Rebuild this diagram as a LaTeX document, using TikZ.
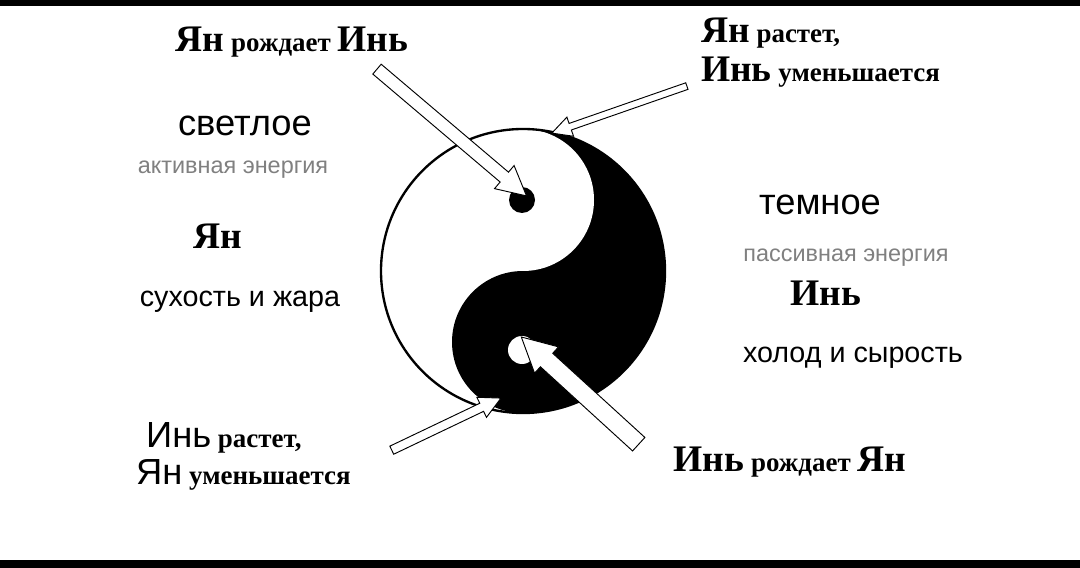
\documentclass[tikz,border=0pt]{standalone}
\usepackage{fontspec}
\setmainfont{Liberation Serif}
\newfontfamily\sansf{Liberation Sans}
\usetikzlibrary{shapes.arrows}
\tikzset{
  harrow/.style 2 args={single arrow, draw=black, fill=white, line width=0.8pt, inner sep=#1, single arrow head extend=#2, single arrow tip angle=55},
  big/.style={font=\sansf\fontsize{31}{33}\selectfont},
  mid/.style={font=\sansf\fontsize{24.5}{26}\selectfont},
  gray/.style={font=\sansf\fontsize{20}{22}\selectfont, text=black!50},
  bs/.style={font=\bfseries\fontsize{23}{26}\selectfont, align=left},
}
\newcommand{\BigW}[1]{{\fontsize{32}{34}\selectfont #1}}
\newcommand{\SW}[1]{{\sansf\mdseries\fontsize{31}{33}\selectfont #1}}
\begin{document}
\begin{tikzpicture}[x=0.03cm,y=-0.03cm]
\useasboundingbox (0,0) rectangle (1080,568);
\fill[black] (0,0) rectangle (1080,6);
\fill[black] (0,560) rectangle (1080,568);
% yin-yang
\begin{scope}
\clip (523,271) circle (142);
\fill[black] (523,120) rectangle (680,420);
\fill[black] (523,342) circle (71);
\fill[white] (523,200) circle (71);
\end{scope}
\draw[line width=2pt] (523,271) circle (142);
\fill[black] (522,200) circle (13);
\fill[white] (522,350) circle (14);
% arrows
\node[harrow={0.18cm}{0.26cm}, minimum height=196*0.03cm, rotate=-40.3] (a1) at (447,128.5) {};
\node[harrow={0.09cm}{0.2cm}, minimum height=143*0.03cm, rotate=199.2] (a2) at (622.5,108.5) {};
\node[harrow={0.12cm}{0.2cm}, minimum height=121*0.03cm, rotate=25.5] (a3) at (442.5,426) {};
\node[harrow={0.26cm}{0.26cm}, minimum height=159*0.03cm, rotate=137.6] (a4) at (586.5,396.5) {};
% texts
\node[bs] (t1) at (292,42) {\BigW{Ян} рождает \BigW{Инь}};
\node[bs, anchor=west] (t2) at (697,33) {\BigW{Ян} растет,};
\node[bs, anchor=west] (t3) at (697,72) {\BigW{Инь} уменьшается};
\node[big] (t4) at (245,126) {светлое};
\node[gray] (t5) at (233,170) {активная энергия};
\node[bs] (t6) at (218,236) {\BigW{Ян}};
\node[mid] (t7) at (240,302) {сухость и жара};
\node[big] (t8) at (820,205) {темное};
\node[gray] (t9) at (846,258) {пассивная энергия};
\node[bs] (t10) at (826,293) {\BigW{Инь}};
\node[mid] (t11) at (853,358) {холод и сырость};
\node[bs, anchor=west] (t12) at (142,438) {\SW{Инь} растет,};
\node[bs, anchor=west] (t13) at (132,475) {\SW{Ян} уменьшается};
\node[bs] (t14) at (790,462) {\BigW{Инь} рождает \BigW{Ян}};
\end{tikzpicture}
\end{document}
